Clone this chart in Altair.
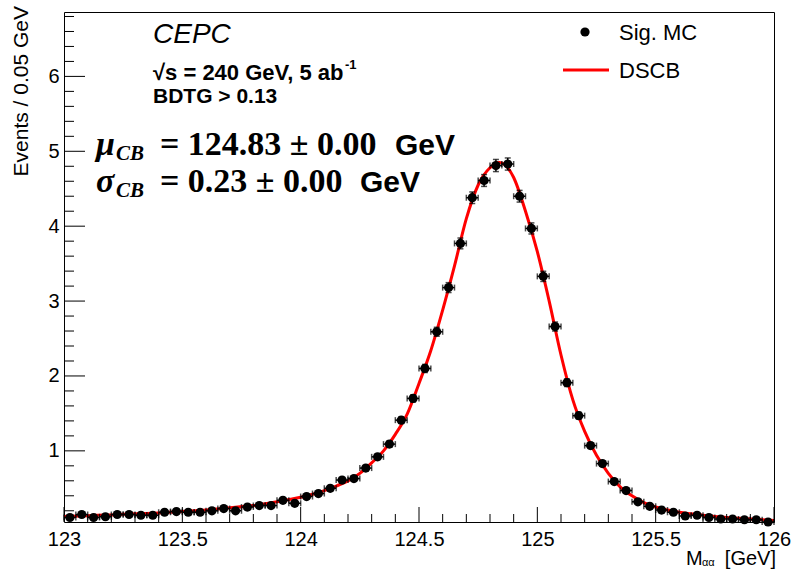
import altair as alt
import pandas as pd

# ---- data ----
bin_lo = 123.0
bin_w = 0.05
sig_mc = [0.11, 0.15, 0.11, 0.12, 0.15, 0.15, 0.14, 0.14, 0.18, 0.19,
          0.18, 0.18, 0.20, 0.23, 0.20, 0.25, 0.27, 0.27, 0.34, 0.30,
          0.39, 0.43, 0.50, 0.61, 0.63, 0.77, 0.92, 1.09, 1.41, 1.70,
          2.10, 2.59, 3.18, 3.77, 4.38, 4.61, 4.81, 4.83, 4.40, 3.97,
          3.33, 2.66, 1.91, 1.47, 1.07, 0.83, 0.59, 0.47, 0.32, 0.26,
          0.21, 0.18, 0.13, 0.14, 0.11, 0.09, 0.09, 0.08, 0.08, 0.05]
sig_err = [0.012, 0.014, 0.012, 0.013, 0.014, 0.014, 0.014, 0.014, 0.016, 0.016,
           0.016, 0.016, 0.017, 0.018, 0.017, 0.018, 0.019, 0.019, 0.022, 0.020,
           0.023, 0.024, 0.026, 0.029, 0.029, 0.032, 0.035, 0.039, 0.044, 0.048,
           0.054, 0.060, 0.066, 0.072, 0.077, 0.079, 0.081, 0.081, 0.078, 0.074,
           0.068, 0.060, 0.051, 0.045, 0.038, 0.034, 0.028, 0.025, 0.021, 0.019,
           0.017, 0.016, 0.013, 0.014, 0.012, 0.011, 0.011, 0.010, 0.010, 0.008]
curve_x = [123.0, 123.1, 123.2, 123.3, 123.4, 123.5, 123.6, 123.7, 123.8, 123.9,
           124.0, 124.05, 124.1, 124.15, 124.2, 124.25, 124.3, 124.35, 124.4, 124.45,
           124.5, 124.55, 124.6, 124.65, 124.7, 124.75, 124.8, 124.84, 124.9, 124.95,
           125.0, 125.05, 125.1, 125.15, 125.2, 125.25, 125.3, 125.35, 125.4, 125.45,
           125.5, 125.6, 125.7, 125.8, 125.9, 126.0]
curve_y = [0.125, 0.135, 0.145, 0.16, 0.17, 0.19, 0.21, 0.24, 0.27, 0.32,
           0.38, 0.42, 0.47, 0.53, 0.60, 0.70, 0.84, 1.00, 1.22, 1.49,
           1.90, 2.34, 2.88, 3.47, 4.10, 4.55, 4.78, 4.85, 4.65, 4.20,
           3.66, 3.00, 2.28, 1.68, 1.26, 0.94, 0.70, 0.52, 0.40, 0.31,
           0.25, 0.18, 0.14, 0.11, 0.09, 0.07]
x_major = [123.0, 123.5, 124.0, 124.5, 125.0, 125.5, 126.0]
x_minor = [123.1, 123.2, 123.3, 123.4, 123.6, 123.7, 123.8, 123.9,
           124.1, 124.2, 124.3, 124.4, 124.6, 124.7, 124.8, 124.9,
           125.1, 125.2, 125.3, 125.4, 125.6, 125.7, 125.8, 125.9]
y_major = [1, 2, 3, 4, 5, 6]
y_minor = [0.2, 0.4, 0.6, 0.8, 1.2, 1.4, 1.6, 1.8, 2.2, 2.4, 2.6, 2.8,
           3.2, 3.4, 3.6, 3.8, 4.2, 4.4, 4.6, 4.8, 5.2, 5.4, 5.6, 5.8,
           6.2, 6.4, 6.6, 6.8]

W, H = 710, 510
XDOM = [123.0, 126.0]
YDOM = [0.05, 6.86]

centers = [round(bin_lo + bin_w * (i + 0.5), 4) for i in range(len(sig_mc))]
pts = pd.DataFrame({
    "x": centers,
    "y": sig_mc,
    "xlo": [c - bin_w / 2 for c in centers],
    "xhi": [c + bin_w / 2 for c in centers],
    "ylo": [v - e for v, e in zip(sig_mc, sig_err)],
    "yhi": [v + e for v, e in zip(sig_mc, sig_err)],
})
curve = pd.DataFrame({"x": curve_x, "y": curve_y})

xs = alt.Scale(domain=XDOM, nice=False, zero=False)
ys = alt.Scale(domain=YDOM, nice=False, zero=False)
FONT = "Liberation Sans"

X = alt.X("x:Q", scale=xs, axis=alt.Axis(
    values=x_major, title=None, ticks=False, domain=False, grid=False,
    labelFont=FONT, labelFontSize=20, labelColor="black", labelPadding=7,
    labelExpr="format(datum.value, '~g')", labelFlush=False, labelOverlap=False))
Y = alt.Y("y:Q", scale=ys, axis=alt.Axis(
    values=y_major, title=None, ticks=False, domain=False, grid=False,
    labelFont=FONT, labelFontSize=20, labelColor="black", labelPadding=5,
    labelExpr="format(datum.value, '~g')", labelFlush=False, labelOverlap=False))

fit_line = alt.Chart(curve).mark_line(color="#ff0000", strokeWidth=3,
                                      interpolate="monotone").encode(x=X, y=Y)

base = alt.Chart(pts)
hbar = base.mark_rule(color="black", strokeWidth=1.5).encode(
    x=alt.X("xlo:Q", scale=xs), x2="xhi:Q", y=alt.Y("y:Q", scale=ys))
vbar = base.mark_rule(color="black", strokeWidth=1.5).encode(
    x=alt.X("x:Q", scale=xs), y=alt.Y("ylo:Q", scale=ys), y2="yhi:Q")
capl = base.mark_tick(color="black", orient="vertical", size=6, thickness=1.5).encode(
    x=alt.X("xlo:Q", scale=xs), y=alt.Y("y:Q", scale=ys))
capr = base.mark_tick(color="black", orient="vertical", size=6, thickness=1.5).encode(
    x=alt.X("xhi:Q", scale=xs), y=alt.Y("y:Q", scale=ys))
capt = base.mark_tick(color="black", orient="horizontal", size=6, thickness=1.5).encode(
    x=alt.X("x:Q", scale=xs), y=alt.Y("yhi:Q", scale=ys))
capb = base.mark_tick(color="black", orient="horizontal", size=6, thickness=1.5).encode(
    x=alt.X("x:Q", scale=xs), y=alt.Y("ylo:Q", scale=ys))
dots = base.mark_point(filled=True, color="black", size=85, opacity=1,
                       strokeWidth=0).encode(x=alt.X("x:Q", scale=xs), y=alt.Y("y:Q", scale=ys))

# inward ROOT-style ticks
def xticks(vals, length):
    return alt.Chart(pd.DataFrame({"v": vals})).mark_rule(color="black", strokeWidth=1).encode(
        x=alt.X("v:Q", scale=xs), y=alt.value(H), y2=alt.value(H - length))

def yticks(vals, length):
    return alt.Chart(pd.DataFrame({"v": vals})).mark_rule(color="black", strokeWidth=1).encode(
        y=alt.Y("v:Q", scale=ys), x=alt.value(0), x2=alt.value(length))

one = pd.DataFrame({"a": [0]})

def txt(text, x, y, size, font=FONT, weight="normal", style="normal",
        align="left", angle=0, baseline="alphabetic"):
    return alt.Chart(one).mark_text(
        text=text, font=font, fontSize=size, fontWeight=weight, fontStyle=style,
        align=align, baseline=baseline, angle=angle, color="black"
    ).encode(x=alt.value(x), y=alt.value(y))

SERIF = "Liberation Serif"
annot = [
    txt("CEPC", 89, 31, 28, style="italic"),
    txt("\u221as = 240 GeV, 5 ab", 89, 68, 22, weight="bold"),
    txt("-1", 281, 57, 13, weight="bold"),
    txt("BDTG > 0.13", 89, 91, 21, weight="bold"),
    txt("\u03bc", 32, 143, 34, font=SERIF, weight="bold", style="italic"),
    txt("CB", 52, 148, 21, font=SERIF, weight="bold", style="italic"),
    txt("= 124.83 \u00b1 0.00", 96, 143, 34, font=SERIF, weight="bold"),
    txt("GeV", 331, 143, 30, weight="bold"),
    txt("\u03c3", 32, 180, 34, font=SERIF, weight="bold", style="italic"),
    txt("CB", 52, 185, 21, font=SERIF, weight="bold", style="italic"),
    txt("= 0.23 \u00b1 0.00", 96, 180, 34, font=SERIF, weight="bold"),
    txt("GeV", 296, 180, 30, weight="bold"),
    # legend
    txt("Sig. MC", 555, 28, 22),
    txt("DSCB", 555, 66, 22),
    # axis titles
    txt("[GeV]", 712, 553, 20, align="right"),
    txt("\u03b1\u03b1", 638, 554, 11),
    txt("M", 622, 553, 20),
    txt("Events / 0.05 GeV", -36, -6, 21, align="right", angle=270),
]
leg_dot = alt.Chart(one).mark_point(filled=True, color="black", size=85, opacity=1,
                                    strokeWidth=0).encode(x=alt.value(521), y=alt.value(20))
leg_line = alt.Chart(one).mark_rule(color="#ff0000", strokeWidth=3).encode(
    x=alt.value(499), x2=alt.value(545), y=alt.value(58))

chart = alt.layer(
    fit_line, hbar, vbar, capl, capr, capt, capb, dots,
    xticks(x_major, 15), xticks(x_minor, 8), yticks(y_major, 21), yticks(y_minor, 10),
    leg_dot, leg_line, *annot
).properties(
    width=W, height=H,
    padding={"left": 64, "top": 12, "right": 18, "bottom": 47},
    autosize=alt.AutoSizeParams(type="none"),
    background="white",
).configure_view(stroke="black", strokeWidth=1)

chart.save("out.html", embed_options={"renderer": "svg", "actions": False})
